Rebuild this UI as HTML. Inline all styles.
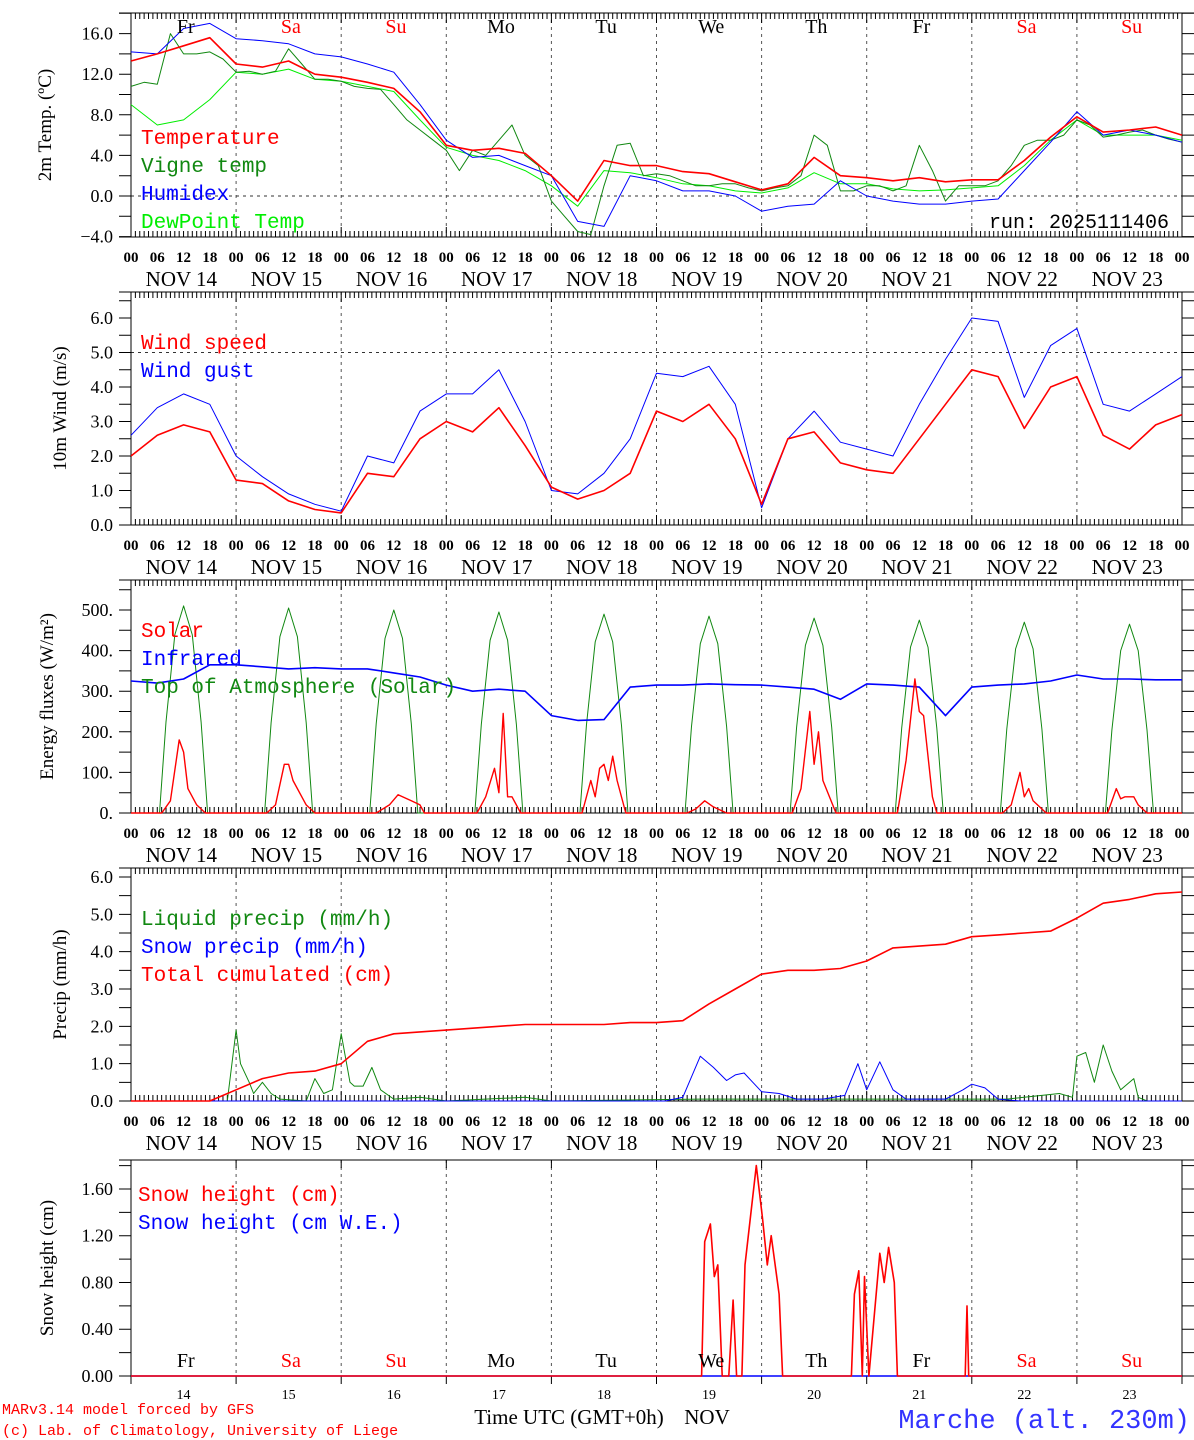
<!DOCTYPE html>
<html><head><meta charset="utf-8"><style>
html,body{margin:0;padding:0;background:#fff;}
svg{display:block;font-family:"Liberation Serif",serif;}
.mono{font-family:"Liberation Mono",monospace;}
</style></head><body>
<svg id="chart" width="1194" height="1440" viewBox="0 0 1194 1440" xmlns="http://www.w3.org/2000/svg"></svg>
<script>
// ---- data (hours from Nov 14 00 UTC) ----
const dayNames = ['Fr','Sa','Su','Mo','Tu','We','Th','Fr','Sa','Su'];
const dayNums = ['14','15','16','17','18','19','20','21','22','23'];
const hourLabels = ['00','06','12','18'];
// Panel 1: 6-hourly (41 pts) except vigne 3-hourly
const tempRed = [13.3,14.0,14.8,15.6,13.0,12.7,13.3,12.0,11.7,11.2,10.6,8.3,5.0,4.5,4.7,4.2,2.0,-0.5,3.5,3.0,3.0,2.4,2.2,1.4,0.6,1.2,3.8,2.0,1.8,1.5,1.8,1.4,1.6,1.6,3.5,5.8,7.8,6.3,6.5,6.8,6.0];
const vigneTemp = [10.8,11.2,11.0,16.0,14.0,14.0,14.2,13.5,12.2,12.3,12.0,12.3,14.5,13.0,11.5,11.5,11.3,10.8,10.6,10.5,9.0,7.5,6.5,5.5,4.5,2.5,4.5,4.0,5.5,7.0,4.0,3.0,-0.5,-2.0,-3.5,-3.8,1.0,5.0,5.2,2.0,2.2,2.0,1.5,1.0,1.0,1.2,1.2,0.8,0.5,0.8,1.0,2.0,6.0,5.0,0.5,0.5,1.0,1.0,0.5,1.0,5.0,2.5,-0.5,1.0,1.0,1.0,1.5,3.0,5.0,5.5,5.5,6.0,7.5,7.0,5.8,6.0,6.3,6.5,6.0,5.6,5.3];
const humidex = [14.2,14.0,16.5,17.0,15.5,15.3,15.0,14.0,13.7,13.0,12.2,9.0,5.5,3.8,4.0,3.0,2.0,-2.5,-3.0,2.0,1.5,0.5,0.5,0.0,-1.5,-1.0,-0.8,1.5,0.0,-0.5,-0.8,-0.8,-0.5,-0.3,2.5,5.3,8.3,6.0,6.5,6.0,5.3];
const dewPoint = [9.0,7.0,7.5,9.5,12.2,12.0,12.5,11.5,11.3,10.8,10.3,7.5,4.8,4.0,3.5,2.5,1.0,-1.0,2.5,2.3,1.8,1.2,1.0,0.5,0.3,0.8,2.3,1.2,1.2,0.7,0.5,0.6,0.8,1.0,3.0,5.5,7.5,6.0,6.0,6.0,5.5];
// Panel 2: 6-hourly
const windSpeed = [2.0,2.6,2.9,2.7,1.3,1.2,0.7,0.45,0.35,1.5,1.4,2.5,3.0,2.7,3.4,2.3,1.1,0.75,1.0,1.5,3.3,3.0,3.5,2.5,0.6,2.5,2.7,1.8,1.6,1.5,2.5,3.5,4.5,4.3,2.8,4.0,4.3,2.6,2.2,2.9,3.2];
const windGust = [2.6,3.4,3.8,3.5,2.0,1.4,0.9,0.6,0.4,2.0,1.8,3.3,3.8,3.8,4.5,3.0,1.0,0.9,1.5,2.5,4.4,4.3,4.6,3.5,0.5,2.5,3.3,2.4,2.2,2.0,3.5,4.8,6.0,5.9,3.7,5.2,5.7,3.5,3.3,3.8,4.3];
// Panel 3
const infrared = [325,320,330,365,365,360,355,358,355,355,345,335,315,300,305,300,240,228,230,310,315,315,318,316,315,310,305,280,318,315,310,240,310,315,318,325,340,330,330,328,328];
const toaPeak = [510,505,500,495,490,485,480,475,470,465];
const toaShapeHours = [6.5,8,10,12,14,16,17.5];
const toaShapeFrac = [0,0.44,0.86,1,0.86,0.44,0];
const solarT = [0,7,9,11,12,13,15,17,31,33,35,36,37,39,40,42,56,59,61,64,66,67,79,81,83,84,85,86,87,89,103,105,106,107,108,109,110,111,113,127,129,131,133,136,151,153,155,156,157,158,161,175,177,179,180,181,183,184,199,201,203,204,205,206,209,223,225,226,227,229,230,232,240];
const solarV = [0,0,30,180,150,60,20,0,0,20,120,120,80,40,20,0,0,20,45,30,20,0,0,40,110,50,245,40,40,0,0,80,40,110,120,80,140,80,0,0,10,30,15,0,0,60,250,120,200,80,0,0,130,330,250,240,40,0,0,20,100,40,60,30,0,0,60,35,40,40,20,0,0];
// Panel 4
const totalCum = [0,0,0,0,0.3,0.6,0.75,0.8,1.0,1.6,1.8,1.85,1.9,1.95,2.0,2.05,2.05,2.05,2.05,2.1,2.1,2.15,2.6,3.0,3.4,3.5,3.5,3.55,3.75,4.1,4.15,4.2,4.4,4.45,4.5,4.55,4.9,5.3,5.4,5.55,5.6];
const liquidT = [0,22,24,25,27,28,30,32,34,40,42,44,46,48,50,51,53,55,57,60,66,72,90,96,130,183,200,212,215,216,218,219,220,222,224,226,228,229,230,232,240];
const liquidV = [0,0,1.9,1.0,0.5,0.2,0.5,0.2,0.05,0,0.6,0.2,0.3,1.8,0.5,0.4,0.4,0.9,0.3,0.05,0.1,0,0.1,0,0.05,0.05,0.05,0.2,0.1,1.2,1.3,0.9,0.5,1.5,0.8,0.3,0.5,0.6,0.1,0,0];
const snowT = [0,122,126,130,133,136,138,140,142,144,148,152,158,163,166,168,171,174,177,186,190,192,195,198,203,240];
const snowV = [0,0,0.1,1.2,0.9,0.55,0.7,0.75,0.5,0.25,0.2,0.05,0.05,0.15,1.0,0.3,1.05,0.3,0.05,0.05,0.3,0.45,0.35,0.05,0,0];
// Panel 5
const snowHT = [0,130.3,131,132.3,133.2,134,135,136.5,137.5,138.3,139.5,140.2,142.8,144.2,145.3,146.2,148,148.8,164.5,165.2,166.2,167,167.5,168.5,171,172,173,174.3,175,190.5,190.9,191.3,240];
const snowHV = [0,0,1.15,1.3,0.85,0.95,0,0,0.65,0,0,0.95,1.8,1.35,0.95,1.2,0.7,0,0,0.7,0.9,0,0.85,0,1.05,0.8,1.1,0.8,0,0,0.6,0,0];
const snowWE_T = [0,240];
const snowWE_V = [0,0];

// ---- drawing ----
const svg = document.getElementById('chart');
const NS = 'http://www.w3.org/2000/svg';
const X0 = 131, X1 = 1182, HRS = 240;
const xs = h => X0 + h * (X1 - X0) / HRS;
function mk(tag, attrs, parent) {
  const e = document.createElementNS(NS, tag);
  for (const k in attrs) e.setAttribute(k, attrs[k]);
  (parent || svg).appendChild(e);
  return e;
}
function txt(s, x, y, size, fill, anchor, cls, parent) {
  const t = mk('text', {x: x, y: y, 'font-size': size, fill: fill || '#000', 'text-anchor': anchor || 'start'}, parent);
  if (cls) t.setAttribute('class', cls);
  t.textContent = s;
  return t;
}
const panels = [
  {top:13,bottom:237,vmin:-4,v0y:196,v0:0,scale:10.15,ticks:[-4,0,4,8,12,16],minor:2,fmt:v=>v.toFixed(1),title:'2m Temp. (ºC)',tx:45,refLine:0,name:'temperature-panel'},
  {top:292,bottom:525,vmin:0,v0y:525,v0:0,scale:34.5,ticks:[0,1,2,3,4,5,6],minor:0.5,fmt:v=>v.toFixed(1),title:'10m Wind (m/s)',tx:60,refLine:5,name:'wind-panel'},
  {top:580,bottom:813,vmin:0,v0y:813,v0:0,scale:0.406,ticks:[0,100,200,300,400,500],minor:50,fmt:v=>v.toFixed(0)+'.',title:'Energy fluxes (W/m²)',tx:47,name:'energy-panel'},
  {top:868,bottom:1101,vmin:0,v0y:1101,v0:0,scale:37.33,ticks:[0,1,2,3,4,5,6],minor:0.5,fmt:v=>v.toFixed(1),title:'Precip (mm/h)',tx:60,name:'precip-panel'},
  {top:1160,bottom:1376,vmin:0,v0y:1376,v0:0,scale:116.9,ticks:[0,0.4,0.8,1.2,1.6],minor:0.2,fmt:v=>v.toFixed(2),title:'Snow height (cm)',tx:47,name:'snow-panel'}
];
panels.forEach((p, pi) => {
  const g = mk('g', {});
  
  
  p.y = v => p.v0y - (v - p.v0) * p.scale;
  p.g = g;
  for (let d = 1; d < 10; d++) {
    const l = mk('line', {x1: xs(d*24), x2: xs(d*24), y1: p.top, y2: p.bottom, stroke: '#555', 'stroke-dasharray': '3,4', 'stroke-width': 1}, g);
    
    
  }
  if (p.refLine !== undefined) {
    const l = mk('line', {x1: X0, x2: X1, y1: p.y(p.refLine), y2: p.y(p.refLine), stroke: '#333', 'stroke-dasharray': '3,4', 'stroke-width': 1}, g);
    
    
  }
  mk('line', {x1: X0, x2: X0, y1: p.top, y2: p.bottom, stroke: '#000'}, g);
  mk('line', {x1: X1, x2: X1, y1: p.top, y2: p.bottom, stroke: '#000'}, g);
  mk('line', {x1: X0 - 12, x2: 1194, y1: p.top, y2: p.top, stroke: '#000'}, g);
  mk('line', {x1: X0 - 12, x2: 1194, y1: p.bottom, y2: p.bottom, stroke: '#000'}, g);
  let tp = '';
  for (let h = 0; h <= HRS; h++) {
    const x = xs(h);
    if (pi < 4) {
      const L = h % 24 === 0 ? 10 : 6;
      tp += `M${x},${p.bottom}v${-L}M${x},${p.top}v${L}`;
    } else if (h % 24 === 0) {
      tp += `M${x},${p.bottom}v8M${x},${p.top}v8`;
    }
  }
  mk('path', {d: tp, stroke: '#000', 'stroke-width': 1, fill: 'none'}, g);
  let yt = '';
  const vmax = p.vmin + (p.bottom - p.top) / p.scale;
  for (let v = p.vmin; v <= vmax + 1e-6; v += p.minor) {
    const y = p.y(v);
    if (y < p.top - 0.5) break;
    yt += `M${X0},${y}h-12M${X1},${y}h12`;
  }
  mk('path', {d: yt, stroke: '#000', fill: 'none'}, g);
  p.ticks.forEach(v => {
    const t = txt(p.fmt(v).replace('-', '−'), 113, p.y(v) + 6, 18, '#000', 'end', null, g);
    
    
  });
  const cy = (p.top + p.bottom) / 2;
  const ti = txt(p.title, p.tx, cy + 6, 19, '#000', 'middle', null, g);
  ti.setAttribute('transform', `rotate(-90 ${p.tx} ${cy})`);
  
  
  if (pi < 4) {
    for (let d = 0; d <= 10; d++) {
      for (let k = 0; k < 4; k++) {
        if (d === 10 && k > 0) break;
        const t = txt(hourLabels[k], xs(d*24 + k*6), p.bottom + 25, 15, '#000', 'middle', null, g);
        t.setAttribute('font-weight', 'bold');
        
        
      }
    }
    for (let d = 0; d < 10; d++) {
      const t = txt('NOV ' + dayNums[d], xs(d*24 + 11.5), p.bottom + 49, 21, '#000', 'middle', null, g);
      
      
    }
  }
});
[[panels[0].top + 20], [1367]].forEach(([y]) => {
  for (let d = 0; d < 10; d++) {
    const red = dayNames[d] === 'Sa' || dayNames[d] === 'Su';
    const t = txt(dayNames[d], xs(d*24 + 12.5), y, 20, red ? '#f00' : '#000', 'middle');
    
    
  }
});
for (let d = 0; d < 10; d++) {
  const t = txt(dayNums[d], xs(d*24 + 12), 1399, 14, '#000', 'middle');
  
  
}
function seriesEven(p, vals, color, name, width) {
  const step = HRS / (vals.length - 1);
  const pts = vals.map((v, i) => `${xs(i*step).toFixed(1)},${p.y(v).toFixed(1)}`).join(' ');
  const l = mk('polyline', {points: pts, fill: 'none', stroke: color, 'stroke-width': width || 1.3, 'stroke-linejoin': 'round'}, p.g);
  
  
}
function seriesXY(p, ts, vs, color, name, width) {
  const pts = ts.map((t, i) => `${xs(t).toFixed(1)},${p.y(vs[i]).toFixed(1)}`).join(' ');
  const l = mk('polyline', {points: pts, fill: 'none', stroke: color, 'stroke-width': width || 1.3, 'stroke-linejoin': 'round'}, p.g);
  
  
}
const P = panels;
seriesEven(P[0], dewPoint, '#00ee00', 'dewpoint-line', 1);
seriesEven(P[0], vigneTemp, '#118811', 'vigne-temp-line', 1);
seriesEven(P[0], humidex, '#0000ff', 'humidex-line', 1);
seriesEven(P[0], tempRed, '#ff0000', 'temperature-line', 1.6);
seriesEven(P[1], windGust, '#0000ff', 'wind-gust-line', 1);
seriesEven(P[1], windSpeed, '#ff0000', 'wind-speed-line', 1.6);
const toaT = [], toaV = [];
toaT.push(0); toaV.push(0);
toaPeak.forEach((pk, d) => toaShapeHours.forEach((h, k) => { toaT.push(d*24 + h); toaV.push(pk * toaShapeFrac[k]); }));
toaT.push(240); toaV.push(0);
seriesXY(P[2], toaT, toaV, '#118811', 'toa-solar-line', 1);
seriesEven(P[2], infrared, '#0000ff', 'infrared-line', 1.6);
seriesXY(P[2], solarT, solarV, '#ff0000', 'solar-line', 1.4);
seriesXY(P[3], liquidT, liquidV, '#118811', 'liquid-precip-line', 1);
seriesXY(P[3], snowT, snowV, '#0000ff', 'snow-precip-line', 1);
seriesEven(P[3], totalCum, '#ff0000', 'total-cumulated-line', 1.6);
seriesXY(P[4], snowWE_T, snowWE_V, '#0000ff', 'snow-we-line', 1.4);
seriesXY(P[4], snowHT, snowHV, '#ff0000', 'snow-height-line', 1.6);
const legends = [
  [141, [['Temperature','#ff0000',144],['Vigne temp','#118811',172],['Humidex','#0000ff',200],['DewPoint Temp','#00ee00',228]]],
  [141, [['Wind speed','#ff0000',349],['Wind gust','#0000ff',377]]],
  [141, [['Solar','#ff0000',637],['Infrared','#0000ff',665],['Top of Atmosphere (Solar)','#118811',693]]],
  [141, [['Liquid precip (mm/h)','#118811',925],['Snow precip (mm/h)','#0000ff',953],['Total cumulated (cm)','#ff0000',981]]],
  [138, [['Snow height (cm)','#ff0000',1201],['Snow height (cm W.E.)','#0000ff',1229]]]
];
legends.forEach(([x, items]) => items.forEach(([s, c, y]) => {
  const t = txt(s, x, y, 21, c, 'start', 'mono');
  
  
}));
const run = txt('run: 2025111406', 1169, 228, 20, '#000', 'end', 'mono');


const c1 = txt('MARv3.14 model forced by GFS', 2, 1414, 15, '#ff0000', 'start', 'mono');


const c2 = txt('(c) Lab. of Climatology, University of Liege', 2, 1435, 15, '#ff0000', 'start', 'mono');


const xt = txt('Time UTC (GMT+0h)', 569, 1424, 21, '#000', 'middle');


const nv = txt('NOV', 707, 1424, 21, '#000', 'middle');


const loc = txt('Marche (alt. 230m)', 1190, 1428, 27, '#3333ff', 'end', 'mono');


</script>
</body></html>
